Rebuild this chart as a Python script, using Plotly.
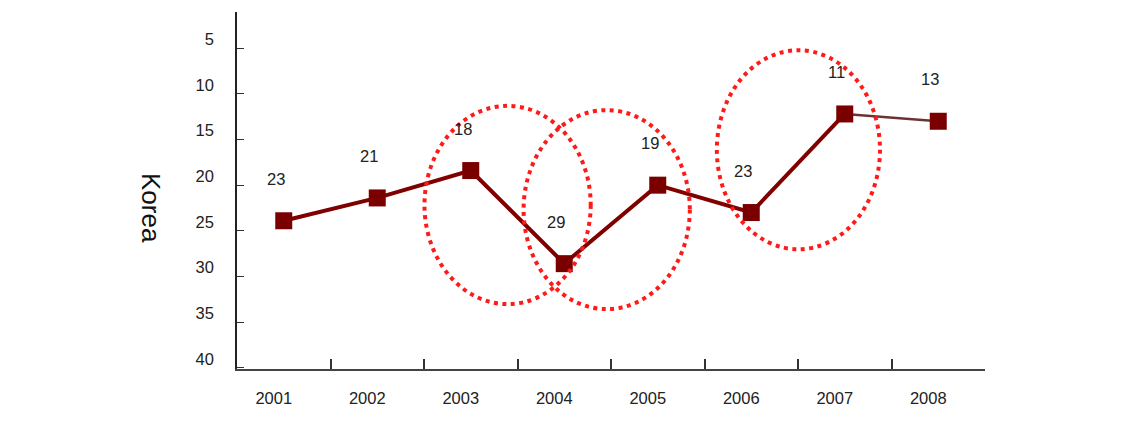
import plotly.graph_objects as go

years = ["2001", "2002", "2003", "2004", "2005", "2006", "2007", "2008"]
rank_labels = [23, 21, 18, 29, 19, 23, 11, 13]
# marker positions
rank_values = [23.9, 21.4, 18.4, 28.6, 20.0, 23.0, 12.2, 13.0]
y_ticks = [5, 10, 15, 20, 25, 30, 35, 40]

xs = list(range(1, len(years) + 1))
font = "Liberation Sans, Arial, sans-serif"

fig = go.Figure()

# main line (2001-2007)
fig.add_trace(go.Scatter(
    x=xs[:7], y=rank_values[:7], mode="lines",
    line=dict(color="#800000", width=4), hoverinfo="skip", showlegend=False))
# last segment (2007-2008), thinner
fig.add_trace(go.Scatter(
    x=xs[6:], y=rank_values[6:], mode="lines",
    line=dict(color="#6b3434", width=2.5), hoverinfo="skip", showlegend=False))
# markers
fig.add_trace(go.Scatter(
    x=xs, y=rank_values, mode="markers",
    marker=dict(symbol="square", size=17, color="#7a0000", line=dict(width=0)),
    showlegend=False))
# invisible trace to activate boundary-tick axis
fig.add_trace(go.Scatter(x=[0.5, 8.5], y=[20, 20], xaxis="x2", mode="lines",
                         line=dict(width=0), hoverinfo="skip", showlegend=False))

for x, y, t in zip(xs, rank_values, rank_labels):
    fig.add_annotation(x=x, y=y, text=str(t), showarrow=False,
                       xshift=-8, yshift=42,
                       font=dict(family=font, size=16.5, color="#222"))

# dotted ellipses
ell = dict(type="circle", xref="x", yref="y",
           line=dict(color="#ff1a1a", width=4, dash="4px,4.5px"))
fig.add_shape(x0=2.505, x1=4.283, y0=11.31, y1=33.03, **ell)
fig.add_shape(x0=3.565, x1=5.343, y0=11.78, y1=33.58, **ell)
fig.add_shape(x0=5.632, x1=7.377, y0=5.22, y1=27.02, **ell)

fig.add_annotation(xref="paper", yref="paper", x=-0.115, y=0.451,
                   xanchor="center", yanchor="middle",
                   text="Korea", textangle=90, showarrow=False,
                   font=dict(family=font, size=26, color="#111"))

fig.update_layout(
    width=1124, height=430,
    margin=dict(l=237, r=139, t=12, b=61),
    paper_bgcolor="white", plot_bgcolor="white",
    font=dict(family=font, size=16.5, color="#222"),
    xaxis=dict(range=[0.5, 8.5], tickvals=xs, ticktext=years, ticks="",
               showgrid=False, zeroline=False, showline=True,
               linecolor="#444", linewidth=1.5,
               ticklabelshift=-10, ticklabelstandoff=13,
               tickfont=dict(family=font, size=16.5, color="#222")),
    xaxis2=dict(range=[0.5, 8.5], overlaying="x", side="bottom",
                tickvals=[1.5, 2.5, 3.5, 4.5, 5.5, 6.5, 7.5, 8.5],
                ticks="inside", ticklen=10, tickwidth=1.5, tickcolor="#333",
                showticklabels=False, showgrid=False, zeroline=False,
                showline=False),
    yaxis=dict(range=[40.14, 1.03], tickvals=y_ticks, ticks="inside",
               ticklen=7, tickwidth=1.2, tickcolor="#333",
               showgrid=False, zeroline=False, showline=True,
               linecolor="#222", linewidth=1.5,
               ticklabelshift=9, ticklabelstandoff=18,
               tickfont=dict(family=font, size=16.5, color="#222")),
)

fig.write_html("out.html")
